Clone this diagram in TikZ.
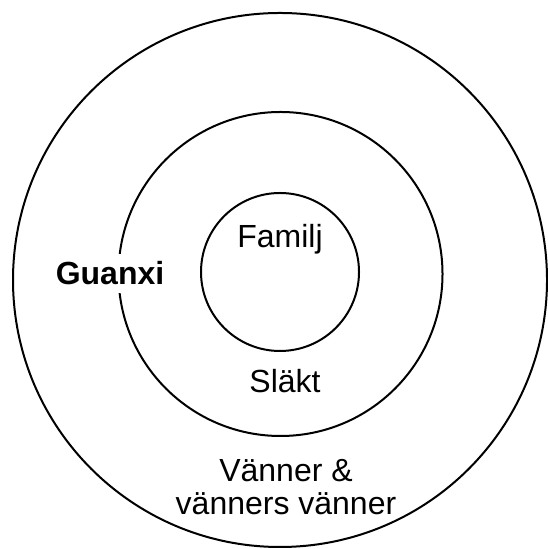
\documentclass[tikz,border=0pt]{standalone}
\usepackage{fontspec}
\setmainfont{Liberation Sans}
\usepackage{tikz}

\tikzset{
	ring/.style={line width=1pt, color=black},
	ringlabel/.style={font=\fontsize{16}{16.5}\selectfont, inner sep=0pt, anchor=base, align=center}
}

\begin{document}
\begin{tikzpicture}[x=0.5pt, y=0.5pt]
		%%%%% START %%%%%
		\useasboundingbox (0, 0) rectangle (547, 549);
		
		% the three rings
		\draw[ring] (280, 269) circle (267);
		\draw[ring] (280.5, 275) circle (162);
		\draw[ring] (280, 277) circle (79);
		
		\node[ringlabel] (familj) at (280, 301) {Familj};
		\node[ringlabel] (slakt) at (285, 156) {Släkt};
		\node[ringlabel] (vanner) at (286, 34) {Vänner \&\\vänners vänner};
		
		% label sits on top of the middle ring
		\node[ringlabel, font=\fontsize{16}{16.5}\selectfont\bfseries, fill=white, inner sep=4pt] (guanxi) at (110, 264) {Guanxi};
		%%%%% END %%%%%
	\end{tikzpicture}
\end{document}
